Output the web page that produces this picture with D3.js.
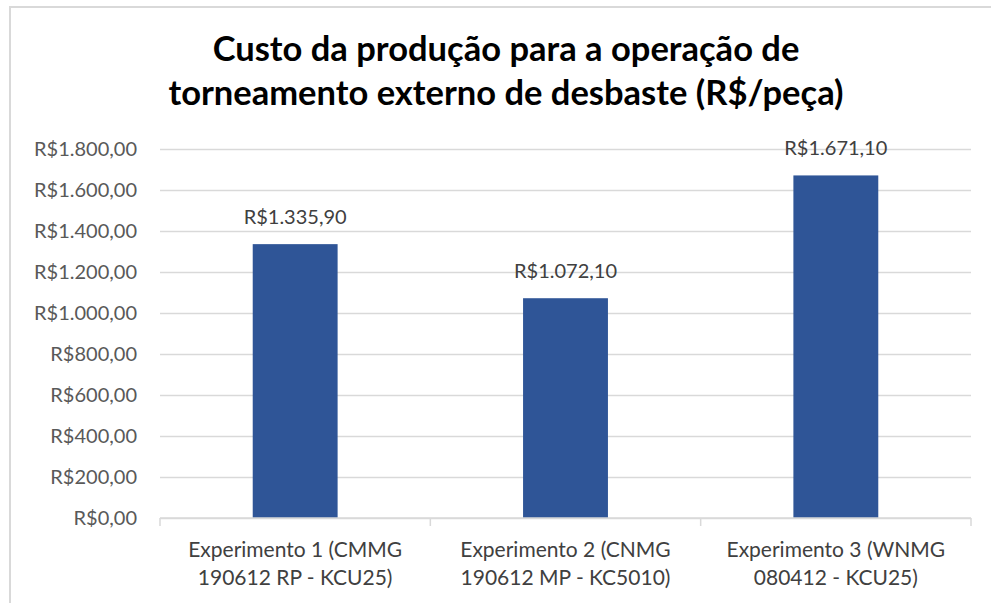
<!DOCTYPE html>
<html lang="pt-BR">
<head>
<meta charset="utf-8">
<script src="https://cdn.jsdelivr.net/npm/d3@7"></script>
<style>
  html, body { margin: 0; padding: 0; background: #fff; }
  svg { display: block; }
  text { font-family: Lato, "Open Sans", sans-serif; }
</style>
</head>
<body>
<svg id="chart" width="991" height="603"></svg>
<script>
// Chart data
const titleLines = ["Custo da produção para a operação de", "torneamento externo de desbaste (R$/peça)"];
const categories = [
  ["Experimento 1 (CMMG", "190612 RP - KCU25)"],
  ["Experimento 2 (CNMG", "190612 MP - KC5010)"],
  ["Experimento 3 (WNMG", "080412 - KCU25)"]
];
const values = [1335.90, 1072.10, 1671.10];
const yTicks = [0, 200, 400, 600, 800, 1000, 1200, 1400, 1600, 1800];

const brl = v => "R$" + v.toLocaleString("pt-BR", { minimumFractionDigits: 2, maximumFractionDigits: 2 });

const svg = d3.select("#chart");
const W = 991, H = 603;
const plot = { left: 160, right: 971, top: 149, bottom: 518 };

// Chart frame
svg.append("rect")
  .attr("x", 10).attr("y", 7)
  .attr("width", W + 20).attr("height", H + 20)
  .attr("fill", "#fff").attr("stroke", "#d9d9d9").attr("stroke-width", 2);

// Title
svg.append("g").selectAll("text").data(titleLines).join("text")
  .attr("x", 506).attr("y", (d, i) => 61 + i * 44)
  .attr("text-anchor", "middle")
  .attr("font-size", 34.5).attr("font-weight", 700).attr("fill", "#000")
  .text(d => d);

const x = d3.scaleBand()
  .domain(d3.range(categories.length))
  .range([plot.left, plot.right])
  .padding(0);

const y = d3.scaleLinear()
  .domain([0, 1800])
  .range([plot.bottom, plot.top]);

// Gridlines
svg.append("g")
  .attr("transform", `translate(${plot.left},0)`)
  .call(d3.axisLeft(y).tickValues(yTicks).tickSize(-(plot.right - plot.left)).tickFormat(""))
  .call(g => g.select(".domain").remove())
  .call(g => g.selectAll("line").attr("stroke", "#d9d9d9").attr("stroke-width", 1.5));

// Y axis labels
svg.append("g")
  .attr("transform", `translate(${plot.left - 23},0)`)
  .call(d3.axisLeft(y).tickValues(yTicks).tickSize(0).tickPadding(0).tickFormat(brl))
  .call(g => g.select(".domain").remove())
  .call(g => g.selectAll("text")
    .attr("font-family", "Lato, sans-serif")
    .attr("font-size", 20).attr("fill", "#595959"));

// Bars
const barW = x.bandwidth() * 0.314;
svg.append("g").selectAll("rect").data(values).join("rect")
  .attr("x", (d, i) => x(i) + (x.bandwidth() - barW) / 2)
  .attr("y", d => y(d))
  .attr("width", barW)
  .attr("height", d => y(0) - y(d))
  .attr("fill", "#2f5597");

// Value labels
svg.append("g").selectAll("text").data(values).join("text")
  .attr("x", (d, i) => x(i) + x.bandwidth() / 2)
  .attr("y", d => y(d) - 20)
  .attr("text-anchor", "middle")
  .attr("font-size", 20).attr("fill", "#404040")
  .text(d => brl(d));

// X axis line and category ticks
const xAxis = svg.append("g").attr("transform", `translate(0,${plot.bottom})`);
xAxis.append("line")
  .attr("x1", plot.left).attr("x2", plot.right)
  .attr("stroke", "#d9d9d9").attr("stroke-width", 1.5);
xAxis.selectAll("line.tick").data(d3.range(categories.length + 1)).join("line")
  .attr("class", "tick")
  .attr("x1", i => i < categories.length ? x(i) : plot.right)
  .attr("x2", i => i < categories.length ? x(i) : plot.right)
  .attr("y1", 0).attr("y2", 8)
  .attr("stroke", "#d9d9d9").attr("stroke-width", 1.5);

// Category labels
const cat = svg.append("g").selectAll("text").data(categories).join("text")
  .attr("x", (d, i) => x(i) + x.bandwidth() / 2)
  .attr("text-anchor", "middle")
  .attr("font-size", 21).attr("fill", "#404040");
cat.selectAll("tspan").data(d => d).join("tspan")
  .attr("x", function () { return this.parentNode.getAttribute("x"); })
  .attr("y", (d, i) => 557 + i * 28)
  .text(d => d);
</script>
</body>
</html>
